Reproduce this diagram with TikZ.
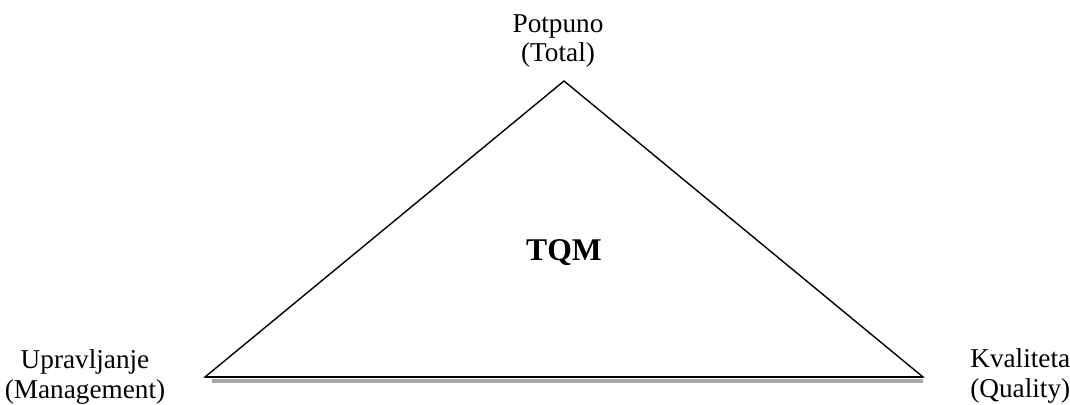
\documentclass[tikz,border=0pt]{standalone}
\usepackage{fontspec}
\setmainfont{Liberation Serif}
\tikzset{
  label/.style={inner sep=0pt, align=center, font=\fontsize{15.5}{17}\selectfont},
  title/.style={inner sep=0pt, font=\fontsize{18}{20}\selectfont\bfseries},
  edge/.style={line width=0.8pt, line join=miter}
}
\begin{document}
\begin{tikzpicture}[x=0.02cm, y=-0.02cm]
  \useasboundingbox (0, 0) rectangle (1070, 405);
  \coordinate (apex) at (564, 81);
  \coordinate (left) at (205, 377);
  \coordinate (right) at (923, 377);
  \fill[gray!70] (212, 378.5) rectangle (923, 382.5);
  \draw[edge] (left) -- (apex) -- (right) -- cycle;
  \draw[line width=1.3pt] (left) -- (right);
  \node[title, anchor=base] (tqm) at (564, 260) {TQM};
  \node[label, anchor=base] (total) at (558, 62) {Potpuno\\(Total)};
  \node[label, anchor=base] (management) at (85, 398) {Upravljanje\\(Management)};
  \node[label, anchor=base west, align=left] (quality) at (970, 397) {Kvaliteta\\(Quality)};
\end{tikzpicture}
\end{document}
